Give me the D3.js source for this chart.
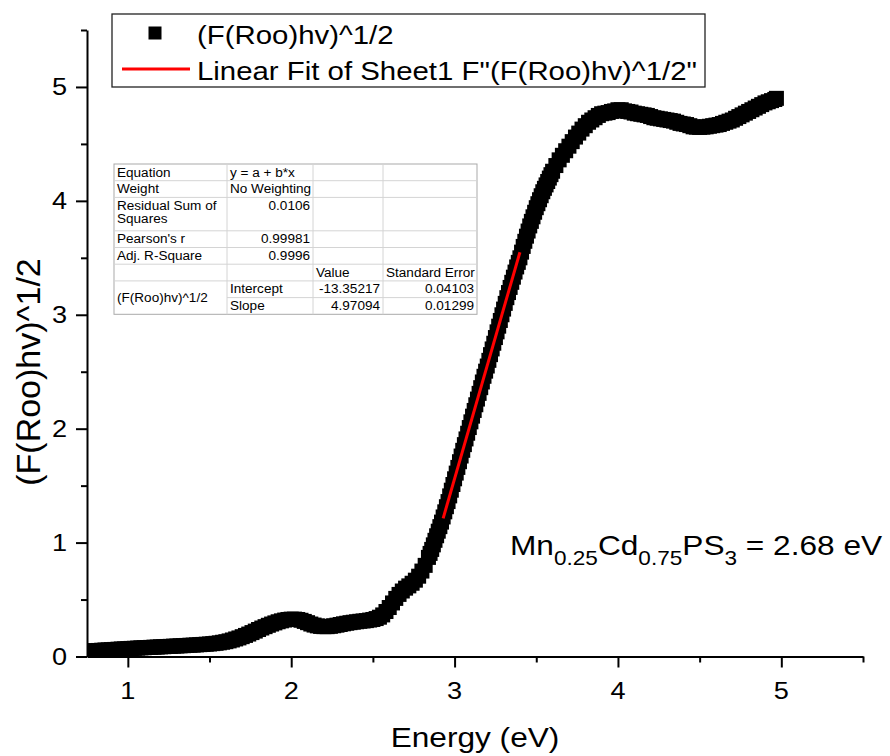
<!DOCTYPE html>
<html>
<head>
<meta charset="utf-8">
<script src="https://cdn.jsdelivr.net/npm/d3@7"></script>
<style>
  body { margin: 0; background: #fff; }
  svg { display: block; }
  text { font-family: "Liberation Sans", Arial, Helvetica, sans-serif; fill: #000; }
</style>
</head>
<body>
<svg id="chart" width="890" height="756"></svg>
<script>
// Photon energy (eV) and Kubelka-Munk transformed reflectance (F(R∞)hν)^1/2
const energy = [
  0.78, 0.80, 0.82, 0.84, 0.86, 0.88, 0.90, 0.92, 0.94, 0.96, 0.98, 1.00, 1.02, 1.04,
  1.06, 1.08, 1.10, 1.12, 1.14, 1.16, 1.18, 1.20, 1.22, 1.24, 1.26, 1.28, 1.30, 1.32,
  1.34, 1.36, 1.38, 1.40, 1.42, 1.44, 1.46, 1.48, 1.50,
  1.52, 1.54, 1.56, 1.58, 1.60, 1.62, 1.64, 1.66, 1.68, 1.70, 1.72, 1.74, 1.76, 1.78,
  1.80, 1.82, 1.84, 1.86, 1.88, 1.90, 1.92, 1.94, 1.96, 1.98, 2.00, 2.02, 2.04, 2.06,
  2.08, 2.10, 2.12, 2.14, 2.16, 2.18, 2.20, 2.22, 2.24, 2.26, 2.28, 2.30, 2.32, 2.34,
  2.36, 2.38, 2.40, 2.42, 2.44, 2.46, 2.48, 2.50,
  2.52, 2.54, 2.56, 2.58, 2.60, 2.62, 2.64, 2.66, 2.68, 2.70, 2.72, 2.74, 2.76, 2.78,
  2.80, 2.82, 2.84,
  2.85, 2.86, 2.87, 2.88, 2.89, 2.90, 2.91, 2.92, 2.93, 2.94, 2.95, 2.96, 2.97, 2.98,
  2.99, 3.00, 3.01, 3.02, 3.03, 3.04, 3.05, 3.06, 3.07, 3.08, 3.09, 3.10, 3.11, 3.12,
  3.13, 3.14, 3.15, 3.16, 3.17, 3.18, 3.19, 3.20, 3.21, 3.22, 3.23, 3.24, 3.25, 3.26,
  3.27, 3.28, 3.29, 3.30, 3.31, 3.32, 3.33, 3.34, 3.35, 3.36, 3.37, 3.38, 3.39, 3.40,
  3.41, 3.42, 3.43, 3.44, 3.45, 3.46, 3.47, 3.48, 3.49, 3.50, 3.51, 3.52, 3.53, 3.54,
  3.55, 3.56, 3.57, 3.58, 3.59, 3.60,
  3.62, 3.64, 3.66, 3.68, 3.70, 3.72, 3.74, 3.76, 3.78, 3.80, 3.82, 3.84, 3.86, 3.88,
  3.90, 3.92, 3.94, 3.96, 3.98, 4.00, 4.02, 4.04, 4.06, 4.08, 4.10, 4.12, 4.14, 4.16,
  4.18, 4.20, 4.22, 4.24, 4.26, 4.28, 4.30, 4.32, 4.34, 4.36, 4.38, 4.40, 4.42, 4.44,
  4.46, 4.48, 4.50, 4.52, 4.54, 4.56, 4.58, 4.60, 4.62, 4.64, 4.66, 4.68, 4.70, 4.72,
  4.74, 4.76, 4.78, 4.80, 4.82, 4.84, 4.86, 4.88, 4.90, 4.92, 4.94, 4.96, 4.97
];
const absorb = [
  0.050, 0.052, 0.053, 0.055, 0.057, 0.058, 0.060, 0.062, 0.064, 0.066, 0.067, 0.069, 0.071, 0.072,
  0.074, 0.076, 0.077, 0.079, 0.080, 0.082, 0.083, 0.085, 0.086, 0.088, 0.089, 0.091, 0.092, 0.094,
  0.095, 0.097, 0.099, 0.100, 0.102, 0.104, 0.106, 0.108, 0.110,
  0.113, 0.116, 0.120, 0.125, 0.130, 0.137, 0.145, 0.154, 0.163, 0.174, 0.185, 0.197, 0.210, 0.223,
  0.237, 0.250, 0.262, 0.274, 0.285, 0.295, 0.305, 0.313, 0.320, 0.325, 0.328, 0.328, 0.325, 0.318,
  0.308, 0.297, 0.285, 0.276, 0.269, 0.264, 0.262, 0.262, 0.265, 0.270, 0.275, 0.281, 0.287, 0.292,
  0.297, 0.301, 0.305, 0.309, 0.312, 0.315, 0.320, 0.325,
  0.333, 0.345, 0.365, 0.395, 0.430, 0.470, 0.510, 0.545, 0.575, 0.600, 0.620, 0.643, 0.670, 0.705,
  0.750, 0.800, 0.870,
  0.905, 0.940, 0.980, 1.020, 1.060, 1.100, 1.140, 1.180, 1.225, 1.270, 1.315, 1.360, 1.410, 1.460,
  1.510, 1.560, 1.610, 1.660, 1.710, 1.760, 1.810, 1.860, 1.910, 1.960, 2.010, 2.060, 2.110, 2.160,
  2.210, 2.260, 2.310, 2.360, 2.410, 2.460, 2.505, 2.550, 2.600, 2.650, 2.700, 2.750, 2.800, 2.850,
  2.900, 2.950, 3.000, 3.050, 3.100, 3.150, 3.195, 3.240, 3.285, 3.330, 3.375, 3.420, 3.460, 3.500,
  3.550, 3.600, 3.645, 3.690, 3.735, 3.780, 3.820, 3.860, 3.900, 3.940, 3.975, 4.010, 4.045, 4.080,
  4.110, 4.140, 4.170, 4.200, 4.230, 4.260,
  4.310, 4.360, 4.400, 4.440, 4.480, 4.520, 4.560, 4.595, 4.630, 4.660, 4.690, 4.710, 4.730, 4.750,
  4.765, 4.770, 4.775, 4.785, 4.790, 4.800, 4.800, 4.790, 4.785, 4.780, 4.770, 4.765, 4.760, 4.755,
  4.750, 4.740, 4.730, 4.725, 4.720, 4.715, 4.710, 4.705, 4.700, 4.690, 4.680, 4.675, 4.670, 4.660,
  4.650, 4.647, 4.645, 4.647, 4.650, 4.655, 4.660, 4.665, 4.670, 4.680, 4.690, 4.700, 4.710, 4.725,
  4.740, 4.755, 4.770, 4.785, 4.800, 4.815, 4.830, 4.845, 4.860, 4.870, 4.880, 4.890, 4.900
];

// Linear fit of the absorption edge
const fitIntercept = -13.35217;
const fitSlope = 4.97094;
const fitRange = [2.93, 3.40];

const xTicks = [1, 2, 3, 4, 5];
const xMinorTicks = [1.5, 2.5, 3.5, 4.5, 5.5];
const yTicks = [0, 1, 2, 3, 4, 5];
const yMinorTicks = [0.5, 1.5, 2.5, 3.5, 4.5, 5.5];

const legendLabels = ["(F(Roo)hv)^1/2", "Linear Fit of Sheet1 F\"(F(Roo)hv)^1/2\""];

// Fit report table: rows with their height in line units
const tableRows = [
  { span: 1, cells: ["Equation", "y = a + b*x", "", ""] },
  { span: 1, cells: ["Weight", "No Weighting", "", ""] },
  { span: 2, cells: ["Residual Sum of|Squares", "0.0106", "", ""] },
  { span: 1, cells: ["Pearson's r", "0.99981", "", ""] },
  { span: 1, cells: ["Adj. R-Square", "0.9996", "", ""] },
  { span: 1, cells: ["", "", "Value", "Standard Error"] },
  { span: 1, cells: ["", "Intercept", "-13.35217", "0.04103"] },
  { span: 1, cells: ["", "Slope", "4.97094", "0.01299"] }
];
const tableGroupLabel = "(F(Roo)hv)^1/2";

const xTitle = "Energy (eV)";
const yTitle = "(F(Roo)hv)^1/2";

// ---------------------------------------------------------------------------
const SX = 1.13;                       // horizontal glyph stretch of the lettering
const svg = d3.select("#chart");
const plot = { left: 87, right: 863, top: 30, bottom: 656.5 };

const x = d3.scaleLinear().domain([0.75, 5.5]).range([plot.left, plot.right]);
const y = d3.scaleLinear().domain([0, 5.5]).range([plot.bottom, plot.top]);

function label(parent, px, py, txt, size, anchor) {
  const g = parent.append("g").attr("transform", `translate(${px},${py}) scale(${SX},1)`);
  return g.append("text").attr("x", 0).attr("y", 0)
    .attr("font-size", size).attr("text-anchor", anchor || "start").text(txt);
}

// Clip for data marks
svg.append("defs").append("clipPath").attr("id", "plotClip")
  .append("rect").attr("x", plot.left).attr("y", plot.top)
  .attr("width", plot.right - plot.left).attr("height", plot.bottom - plot.top);

// Data: square markers
const pts = energy.map((e, i) => ({ e, a: absorb[i] }));
const MS = 15;
svg.append("g").attr("clip-path", "url(#plotClip)")
  .selectAll("rect").data(pts).join("rect")
  .attr("x", d => x(d.e) - MS / 2).attr("y", d => y(d.a) - MS / 2)
  .attr("width", MS).attr("height", MS).attr("fill", "#000");

// Fit line
const fitPts = fitRange.map(e => ({ e, a: fitIntercept + fitSlope * e }));
svg.append("path").datum(fitPts)
  .attr("d", d3.line().x(d => x(d.e)).y(d => y(d.a)))
  .attr("fill", "none").attr("stroke", "#ff0000").attr("stroke-width", 3);

// Axes
const axisStyle = g => {
  g.selectAll("path.domain").attr("stroke", "#000").attr("stroke-width", 2);
  g.selectAll(".tick line").attr("stroke", "#000").attr("stroke-width", 2);
};
svg.append("g").attr("transform", `translate(0,${plot.bottom})`)
  .call(d3.axisBottom(x).tickValues(xTicks).tickSize(11).tickSizeOuter(0).tickFormat(""))
  .call(axisStyle);
svg.append("g").attr("transform", `translate(0,${plot.bottom})`)
  .call(d3.axisBottom(x).tickValues(xMinorTicks).tickSize(6).tickSizeOuter(0).tickFormat(""))
  .call(axisStyle).select("path.domain").remove();
svg.append("g").attr("transform", `translate(${plot.left},0)`)
  .call(d3.axisLeft(y).tickValues(yTicks).tickSize(11).tickSizeOuter(0).tickFormat(""))
  .call(axisStyle);
svg.append("g").attr("transform", `translate(${plot.left},0)`)
  .call(d3.axisLeft(y).tickValues(yMinorTicks).tickSize(6).tickSizeOuter(0).tickFormat(""))
  .call(axisStyle).select("path.domain").remove();

// Tick labels
xTicks.forEach(v => label(svg, x(v), 699, d3.format("d")(v), 24, "middle"));
yTicks.forEach(v => label(svg, 67, y(v) + 8.5, d3.format("d")(v), 24, "end"));

// Axis titles
label(svg, 475, 747, xTitle, 28, "middle");
svg.append("g").attr("transform", "translate(40,372) rotate(-90)")
  .append("text").attr("font-size", 34).attr("text-anchor", "middle").text(yTitle);

// Legend
const lg = svg.append("g");
lg.append("rect").attr("x", 112).attr("y", 14).attr("width", 593).attr("height", 73)
  .attr("fill", "#fff").attr("stroke", "#222").attr("stroke-width", 1.3);
lg.append("rect").attr("x", 155 - 13 / 2).attr("y", 33 - 13 / 2).attr("width", 13).attr("height", 13).attr("fill", "#000");
lg.append("line").attr("x1", 122).attr("x2", 190).attr("y1", 69).attr("y2", 69)
  .attr("stroke", "#ff0000").attr("stroke-width", 3);
label(lg, 197, 43.5, legendLabels[0], 26);
label(lg, 197, 80, legendLabels[1], 26);

// Fit report table
const colX = [114, 227, 313, 383, 477];
const unit = 16.7, tTop = 164;
const tg = svg.append("g");
const rowTops = [];
let cur = tTop;
tableRows.forEach(r => { rowTops.push(cur); cur += r.span * unit; });
const tBottom = cur;
tg.append("rect").attr("x", colX[0]).attr("y", tTop).attr("width", colX[4] - colX[0]).attr("height", tBottom - tTop)
  .attr("fill", "#fff").attr("stroke", "#a9a9a9").attr("stroke-width", 1);
// horizontal grid lines (first column is merged for the last two rows)
rowTops.slice(1).forEach((t, i) => {
  const x0 = (i + 1 === tableRows.length - 1) ? colX[1] : colX[0];
  tg.append("line").attr("x1", x0).attr("x2", colX[4]).attr("y1", t).attr("y2", t)
    .attr("stroke", "#d4d4d4").attr("stroke-width", 1);
});
colX.slice(1, 4).forEach(cx => {
  tg.append("line").attr("x1", cx).attr("x2", cx).attr("y1", tTop).attr("y2", tBottom)
    .attr("stroke", "#d4d4d4").attr("stroke-width", 1);
});
const isNum = s => /^-?[\d.]+$/.test(s);
tableRows.forEach((r, ri) => {
  r.cells.forEach((c, ci) => {
    if (!c) return;
    const lines = c.split("|");
    const right = isNum(c);
    const px = right ? colX[ci + 1] - 3 : colX[ci] + 3;
    lines.forEach((ln, li) => {
      label(tg, px, rowTops[ri] + 12.5 + li * 13.5, ln, 12, right ? "end" : "start");
    });
  });
});
label(tg, colX[0] + 3, (rowTops[6] + tBottom) / 2 + 4.5, tableGroupLabel, 12, "start");

// Band-gap annotation
const ann = svg.append("g").attr("transform", `translate(510,555) scale(${SX},1)`)
  .append("text").attr("font-size", 28);
[["Mn", 0], ["0.25", 1], ["Cd", 0], ["0.75", 1], ["PS", 0], ["3", 1], [" = 2.68 eV", 0]]
  .reduce((prev, [t, sub]) => {
    ann.append("tspan").attr("font-size", sub ? 20 : 28)
      .attr("dy", sub === prev ? 0 : (sub ? 10 : -10)).text(t);
    return sub;
  }, 0);
</script>
</body>
</html>
